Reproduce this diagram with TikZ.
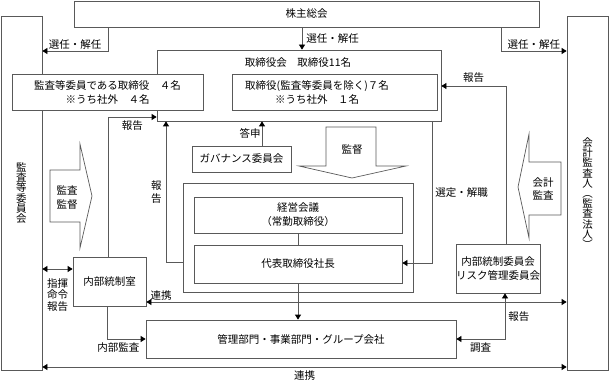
\documentclass[tikz,border=0pt]{standalone}
\usepackage{fontspec}
\setmainfont{Noto Sans CJK JP}
\usetikzlibrary{arrows.meta}

\begin{document}
\begin{tikzpicture}[
  x=1pt,y=-1pt,
  >={Triangle[length=5pt,width=6pt,color=black]},
  wire/.style={black!65,line width=0.7pt},
  box/.style={wire,draw,fill=white,inner sep=0pt,align=center,text=black,
    font=\fontsize{10.5}{14}\selectfont},
  vbox/.style={box,font={\fontsize{10.5}{10.2}\selectfont\lineskiplimit=-5pt}},
  note/.style={inner sep=1pt,align=center,text=black,font=\fontsize{10.5}{13}\selectfont},
  blk/.style={wire,fill=white}
]
  \useasboundingbox (0,0) rectangle (609,382);

  % boxes
  \node[box,minimum width=465pt,minimum height=26pt] (sh) at (306.5,14) {株主総会};
  \node[vbox,minimum width=41pt,minimum height=354pt] (kansa) at (21.5,193) {監\\査\\等\\委\\員\\会};
  \node[vbox,minimum width=41pt,minimum height=354pt] (cpa) at (587.5,193) {会\\計\\監\\査\\人\\︵\\監\\査\\法\\人\\︶};
  \node[box,minimum width=284pt,minimum height=71pt] (board) at (299,85.5) {};
  \node[note] (boardtxt) at (298,63) {取締役会　取締役11名};
  \node[box,minimum width=191pt,minimum height=36pt] (acdir) at (107.5,92) {監査等委員である取締役　４名\\※うち社外　４名};
  \node[box,minimum width=205pt,minimum height=36pt] (dir) at (334.5,92) {};
  \node[note,font=\fontsize{10.5}{14}\selectfont] (dirtxt) at (317,92) {取締役(監査等委員を除く)７名\\※うち社外　１名};
  \node[box,minimum width=99pt,minimum height=26pt] (gov) at (241.5,159) {ガバナンス委員会};
  \node[box,minimum width=230pt,minimum height=109pt] (exec) at (298,237.5) {};
  \node[box,minimum width=208pt,minimum height=36pt] (mtg) at (298,215) {経営会議\\（常勤取締役）};
  \node[box,minimum width=208pt,minimum height=38pt] (ceo) at (298,264) {代表取締役社長};
  \node[box,minimum width=73pt,minimum height=49pt] (ic) at (109.5,281.5) {内部統制室};
  \node[box,minimum width=82pt,minimum height=49pt] (icc) at (498,268.5) {内部統制委員会\\リスク管理委員会};
  \node[box,minimum width=310pt,minimum height=38pt] (dept) at (301,339) {管理部門・事業部門・グループ会社};

  % block arrows
  \draw[blk] (50,170) -- (80,170) -- (80,144) -- (92,196) -- (80,248) -- (80,222) -- (50,222) -- cycle;
  \node[note,font=\fontsize{10.5}{14}\selectfont] (kansatoku) at (67,198) {監査\\監督};
  \draw[blk] (561,162) -- (529,162) -- (529,134) -- (518,187) -- (529,238) -- (529,215) -- (561,215) -- cycle;
  \node[note] (kaikei) at (543,188.5) {会計\\監査};
  \draw[blk] (326,127) -- (376,127) -- (376,166) -- (406,166) -- (352,178) -- (299,166) -- (326,166) -- cycle;
  \node[note] (toku) at (352,150) {監督};

  % connectors
  \draw[wire,->] (108,0 |- sh.south) |- (kansa.east |- 0,51) node[note,above,pos=0.75] {選任・解任};
  \draw[wire,->] (302,0 |- sh.south) -- (302,0 |- board.north) node[note,right,midway,xshift=3pt] {選任・解任};
  \draw[wire,->] (501,0 |- sh.south) |- (cpa.west |- 0,51) node[note,above,pos=0.75] {選任・解任};
  \draw[wire,->] (506,0 |- icc.north) |- (board.east |- 0,86) node[note,above,pos=0.75,yshift=2pt] {報告};
  \draw[wire,->] (108,0 |- ic.north) |- (board.west |- 0,117) node[note,below,pos=0.75,yshift=-2pt] {報告};
  \draw[wire,->] (262,0 |- gov.north) -- (262,0 |- board.south) node[note,left,midway] {答申};
  \draw[wire,->] (432,0 |- board.south) |- (ceo.east |- 0,263) node[note,right,pos=0.25,xshift=2pt] {選定・解職};
  \draw[wire,->] (exec.west |- 0,262) -| (166,0 |- board.south) node[note,left,pos=0.75,xshift=-3pt] {報\\告};
  \draw[wire] (mtg.south) -- (ceo.north);
  \draw[wire,->] (ceo.south) -- (ceo.south |- dept.north);
  \draw[wire,<->] (kansa.east |- 0,269) -- (ic.west |- 0,269) node[note,below,midway,yshift=-8pt,font=\fontsize{10.5}{11.5}\selectfont] {指揮\\命令\\報告};
  \draw[wire,<->] (ic.east |- 0,302) -- (cpa.west |- 0,302) node[note,above right,pos=0,xshift=3pt] {連携};
  \draw[wire,->] (107,0 |- ic.south) |- (dept.west |- 0,339) node[note,below,pos=0.75,xshift=-8pt,yshift=-2pt] {内部監査};
  \draw[wire,<->] (505,0 |- icc.south) |- (dept.east |- 0,339) node[note,right,pos=0.25,xshift=2pt] {報告} node[note,below,pos=0.75,yshift=-2pt] {調査};
  \draw[wire,<->] (kansa.east |- 0,367) -- (cpa.west |- 0,367) node[note,below,midway,yshift=-2pt] {連携};
\end{tikzpicture}
\end{document}
